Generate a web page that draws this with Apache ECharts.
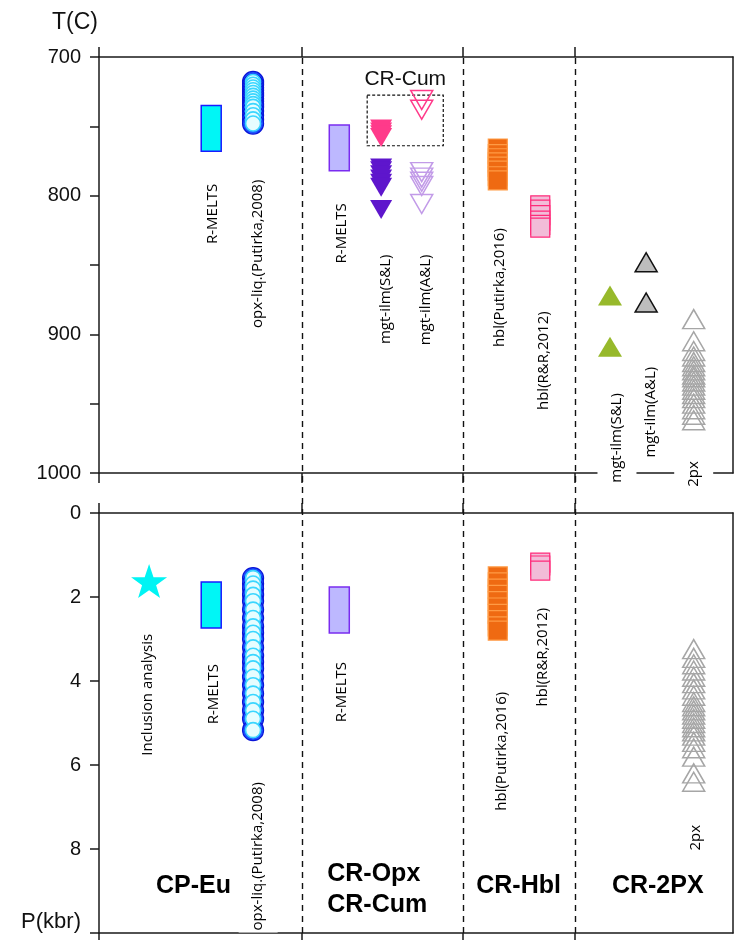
<!DOCTYPE html>
<html>
<head>
<meta charset="utf-8">
<script src="https://cdn.jsdelivr.net/npm/echarts@6/dist/echarts.min.js"></script>
<style>
  html, body { margin: 0; padding: 0; background: #fff; }
  #chart { width: 735px; height: 940px; }
</style>
</head>
<body>
<div id="chart"></div>
<script>
// column slots across the plot, 0-100 from the left axis to the right edge
const groupEdges = [0, 32, 57.4, 75.1]
const colX = {
  incl: 7.9, euMelts: 17.7, opxLiq: 24.3, crMelts: 37.9, mgtSL: 44.5, mgtAL: 50.9,
  hblPut: 62.9, hblRR: 69.6, mgtSL2: 80.6, mgtAL2: 86.3, twoPx: 93.8
}

// temperature panel (C)
const tEuMelts = [735, 768]
const tEuOpxLiq = [718, 720, 722, 724, 726, 728, 730, 732, 734, 736, 739, 742, 745, 748]
const tCrMelts = [749, 782]
const tMgtSLCum = [752, 754, 756, 758]
const tMgtSLOpx = [780, 782, 785, 788, 791, 794, 810]
const tMgtALCum = [731, 738]
const tMgtALOpx = [783, 787, 790, 793, 806]
const tHblPutirka = [766, 770, 773, 776, 779, 782, 786, 789]
const tHblRR = [807, 810, 814, 818, 821, 823]
const t2pxMgtSL = [872, 909]
const t2pxMgtAL = [848, 877]
const t2px = [889, 905, 912, 916, 920, 923, 926, 929, 931, 934, 937, 940, 943, 946, 950, 954, 958, 962]
const cumBox = [[42.3, 727.5], [54.3, 764]]

// pressure panel (kbar)
const pInclusion = [1.62]
const pEuMelts = [1.64, 2.74]
const pEuOpxLiq = [1.55, 1.68, 1.8, 1.95, 2.1, 2.3, 2.5, 2.7, 2.85, 3.0, 3.2, 3.4, 3.55, 3.7, 3.9, 4.1, 4.3, 4.5, 4.7, 4.9, 5.17]
const pCrMelts = [1.76, 2.86]
const pHblPutirka = [1.51, 1.65, 1.8, 1.95, 2.1, 2.25, 2.4, 2.55, 2.7, 2.8]
const pHblRR = [1.18, 1.25, 1.37]
const p2px = [3.24, 3.45, 3.6, 3.75, 3.9, 4.05, 4.2, 4.35, 4.5, 4.6, 4.7, 4.8, 4.9, 5.0, 5.1, 5.2, 5.3, 5.45, 5.6, 5.8, 6.2, 6.4]

// method labels: [slot, value at top of text, text]
const topLabels = [
  [18.0, 790, 'R-MELTS'],
  [25.1, 787, 'opx-liq.(Putirka,2008)'],
  [38.3, 804, 'R-MELTS'],
  [45.3, 841, 'mgt-ilm(S&L)'],
  [51.6, 841, 'mgt-ilm(A&L)'],
  [63.2, 822, 'hbl(Putirka,2016)'],
  [70.2, 882, 'hbl(R&R,2012)'],
  [81.7, 941, 'mgt-ilm(S&L)'],
  [87.1, 922, 'mgt-ilm(A&L)'],
  [93.8, 990, '2px']
]
const bottomLabels = [
  [7.7, 2.83, 'Inclusion analysis'],
  [18.1, 3.55, 'R-MELTS'],
  [25.1, 6.36, 'opx-liq.(Putirka,2008)'],
  [38.3, 3.5, 'R-MELTS'],
  [63.6, 4.21, 'hbl(Putirka,2016)'],
  [70.0, 2.21, 'hbl(R&R,2012)'],
  [94.2, 7.38, '2px']
]
const groupLabels = [
  [9.0, 8.88, 'CP-Eu'],
  [36.0, 8.6, 'CR-Opx'],
  [36.0, 9.33, 'CR-Cum'],
  [59.5, 8.88, 'CR-Hbl'],
  [80.9, 8.88, 'CR-2PX']
]

const FONT = '"Liberation Sans", Arial, sans-serif'
const LFONT = '"Open Sans", "Noto Sans", sans-serif'
const ink = { color: '#1a1a1a', width: 1.5 }
const STAR = 'path://M50,0 L61.8,35.1 L98.1,35.1 L68.8,56.7 L79.4,91 L50,70 L20.6,91 L31.2,56.7 L1.9,35.1 L38.2,35.1 Z'

const pts = (x, vals) => vals.map(v => [x, v])

function rectSeries(gi, x, range, fill, stroke) {
  return {
    type: 'custom', xAxisIndex: gi * 2, yAxisIndex: gi * 2, silent: true,
    data: [[x, range[0], range[1]]],
    itemStyle: { color: fill, borderColor: stroke, borderWidth: 1.5 },
    renderItem: (params, api) => {
      const a = api.coord([api.value(0), api.value(1)])
      const b = api.coord([api.value(0), api.value(2)])
      return { type: 'rect', shape: { x: a[0] - 10, y: a[1], width: 20, height: b[1] - a[1] }, style: api.style() }
    }
  }
}

function dots(gi, x, vals, symbol, size, itemStyle, extra) {
  return Object.assign({
    type: 'scatter', xAxisIndex: gi * 2, yAxisIndex: gi * 2, silent: true,
    data: pts(x, vals), symbol, symbolSize: size,
    itemStyle: Object.assign({ opacity: 1 }, itemStyle)
  }, extra || {})
}

function labelSeries(gi, items, label) {
  return {
    type: 'scatter', xAxisIndex: gi * 2, yAxisIndex: gi * 2, silent: true, z: 5,
    data: items, symbolSize: 1, itemStyle: { color: 'rgba(0,0,0,0)', opacity: 1 },
    label: Object.assign({ show: true, position: 'inside', formatter: p => p.value[2] }, label)
  }
}

const rotated = {
  rotate: 90, align: 'right', verticalAlign: 'middle',
  fontFamily: LFONT, fontSize: 15, color: '#000',
  backgroundColor: '#fff', padding: [12, 2, 12, 2]
}

// opx-liq balls: blue disc with a pale, cyan-ringed core
const opxOuter = { color: '#1c55ff', borderColor: '#0a14d8', borderWidth: 1.2 }
const opxInner = { color: '#e6fdff', borderColor: '#3ad6ff', borderWidth: 1.6 }
const hollowGray = { color: 'rgba(255,255,255,0)', borderColor: '#a6a6a6', borderWidth: 1.5 }

function xAx(gi, pos) {
  return {
    type: 'value', gridIndex: gi, position: pos, min: 0, max: 100,
    axisLine: { show: true, onZero: false, lineStyle: ink },
    axisTick: { show: true, customValues: groupEdges, length: 10, lineStyle: ink },
    axisLabel: { show: false }, splitLine: { show: false }
  }
}
function rightAx(gi, min, max) {
  return {
    type: 'value', gridIndex: gi, position: 'right', min, max, inverse: true,
    axisLine: { show: true, onZero: false, lineStyle: ink },
    axisTick: { show: false }, axisLabel: { show: false }, splitLine: { show: false }
  }
}

const chart = echarts.init(document.getElementById('chart'))

chart.setOption({
  animation: false,
  grid: [
    { left: 99, top: 57, width: 634, height: 416 },
    { left: 99, top: 513, width: 634, height: 420 },
    { left: 99, top: 57, width: 634, height: 876 }
  ],
  xAxis: [
    xAx(0, 'bottom'), xAx(0, 'top'), xAx(1, 'bottom'), xAx(1, 'top'),
    { type: 'value', gridIndex: 2, min: 0, max: 100, show: false }
  ],
  yAxis: [
    {
      type: 'value', gridIndex: 0, min: 700, max: 1000, interval: 100, inverse: true,
      axisLine: { show: true, onZero: false, lineStyle: ink },
      axisTick: { show: true, length: 9, lineStyle: ink },
      minorTick: { show: true, splitNumber: 2, length: 9, lineStyle: ink },
      axisLabel: { fontFamily: FONT, fontSize: 20, color: '#111', margin: 18, formatter: v => String(v) },
      splitLine: { show: false }
    },
    rightAx(0, 700, 1000),
    {
      type: 'value', gridIndex: 1, min: 0, max: 10, interval: 2, inverse: true,
      axisLine: { show: true, onZero: false, lineStyle: ink },
      axisTick: { show: true, length: 9, lineStyle: ink },
      axisLabel: {
        fontFamily: FONT, fontSize: 20, color: '#111', margin: 18,
        formatter: v => v === 10 ? '{p|P(kbr)}' : String(v),
        rich: { p: { fontFamily: FONT, fontSize: 22, color: '#111', padding: [0, 0, 22, 0] } }
      },
      splitLine: { show: false }
    },
    rightAx(1, 0, 10),
    { type: 'value', gridIndex: 2, min: 0, max: 1, show: false }
  ],
  graphic: [
    { type: 'text', left: 52, top: 11, style: { text: 'T(C)', font: '23px ' + FONT, fill: '#111' } }
  ],
  series: [
    // group separators
    {
      type: 'scatter', xAxisIndex: 4, yAxisIndex: 4, data: [[0, 0]], symbolSize: 0, silent: true,
      markLine: {
        silent: true, symbol: ['none', 'none'], label: { show: false },
        lineStyle: { color: '#111', width: 1.4, type: [6, 5] },
        data: groupEdges.slice(1).map(x => ({ xAxis: x }))
      }
    },

    // ---- temperature ----
    rectSeries(0, colX.euMelts, tEuMelts, '#00f6f6', '#1a1aff'),
    dots(0, colX.opxLiq, tEuOpxLiq, 'circle', 21, opxOuter),
    dots(0, colX.opxLiq, tEuOpxLiq, 'circle', 15, opxInner),
    rectSeries(0, colX.crMelts, tCrMelts, '#bdb8ff', '#7a2cf0'),
    dots(0, colX.mgtSL, tMgtSLCum, 'triangle', [22, 19], { color: '#ff3a8a' }, {
      symbolRotate: 180,
      markArea: {
        silent: true,
        itemStyle: { color: 'rgba(0,0,0,0)', borderColor: '#111', borderWidth: 1.2, borderType: [3, 2] },
        label: { show: true, position: 'top', distance: 5, formatter: 'CR-Cum', fontFamily: FONT, fontSize: 21, color: '#111' },
        data: [[{ coord: cumBox[0] }, { coord: cumBox[1] }]]
      }
    }),
    dots(0, colX.mgtSL, tMgtSLOpx, 'triangle', [22, 19], { color: '#5e16cc' }, { symbolRotate: 180 }),
    dots(0, colX.mgtAL, tMgtALCum, 'triangle', [22, 19], { color: 'rgba(255,255,255,0)', borderColor: '#ff3a8a', borderWidth: 1.5 }, { symbolRotate: 180 }),
    dots(0, colX.mgtAL, tMgtALOpx, 'triangle', [22, 19], { color: 'rgba(255,255,255,0)', borderColor: '#c29be8', borderWidth: 1.5 }, { symbolRotate: 180 }),
    dots(0, colX.hblPut, tHblPutirka, 'rect', 19, { color: '#ef6a12', borderColor: '#ff9b45', borderWidth: 1.2 }),
    dots(0, colX.hblRR, tHblRR, 'rect', 19, { color: '#f2bcd8', borderColor: '#ff2a7a', borderWidth: 1.2 }),
    dots(0, colX.mgtSL2, t2pxMgtSL, 'triangle', [24, 20], { color: '#97b92b' }),
    dots(0, colX.mgtAL2, t2pxMgtAL, 'triangle', [22, 19], { color: '#bdbdbd', borderColor: '#111', borderWidth: 1.5 }),
    dots(0, colX.twoPx, t2px, 'triangle', [22, 19], hollowGray),
    labelSeries(0, topLabels, rotated),

    // ---- pressure ----
    dots(1, colX.incl, pInclusion, STAR, [36, 34], { color: '#00f4f4' }),
    rectSeries(1, colX.euMelts, pEuMelts, '#00f6f6', '#1a1aff'),
    dots(1, colX.opxLiq, pEuOpxLiq, 'circle', 21, opxOuter),
    dots(1, colX.opxLiq, pEuOpxLiq, 'circle', 15, opxInner),
    rectSeries(1, colX.crMelts, pCrMelts, '#bdb8ff', '#7a2cf0'),
    dots(1, colX.hblPut, pHblPutirka, 'rect', 19, { color: '#ef6a12', borderColor: '#ff9b45', borderWidth: 1.2 }),
    dots(1, colX.hblRR, pHblRR, 'rect', 19, { color: '#f2bcd8', borderColor: '#ff2a7a', borderWidth: 1.2 }),
    dots(1, colX.twoPx, p2px, 'triangle', [22, 19], hollowGray),
    labelSeries(1, bottomLabels, rotated),
    labelSeries(1, groupLabels, {
      align: 'left', verticalAlign: 'middle',
      fontFamily: FONT, fontSize: 25, fontWeight: 'bold', color: '#000'
    })
  ]
})
</script>
</body>
</html>
